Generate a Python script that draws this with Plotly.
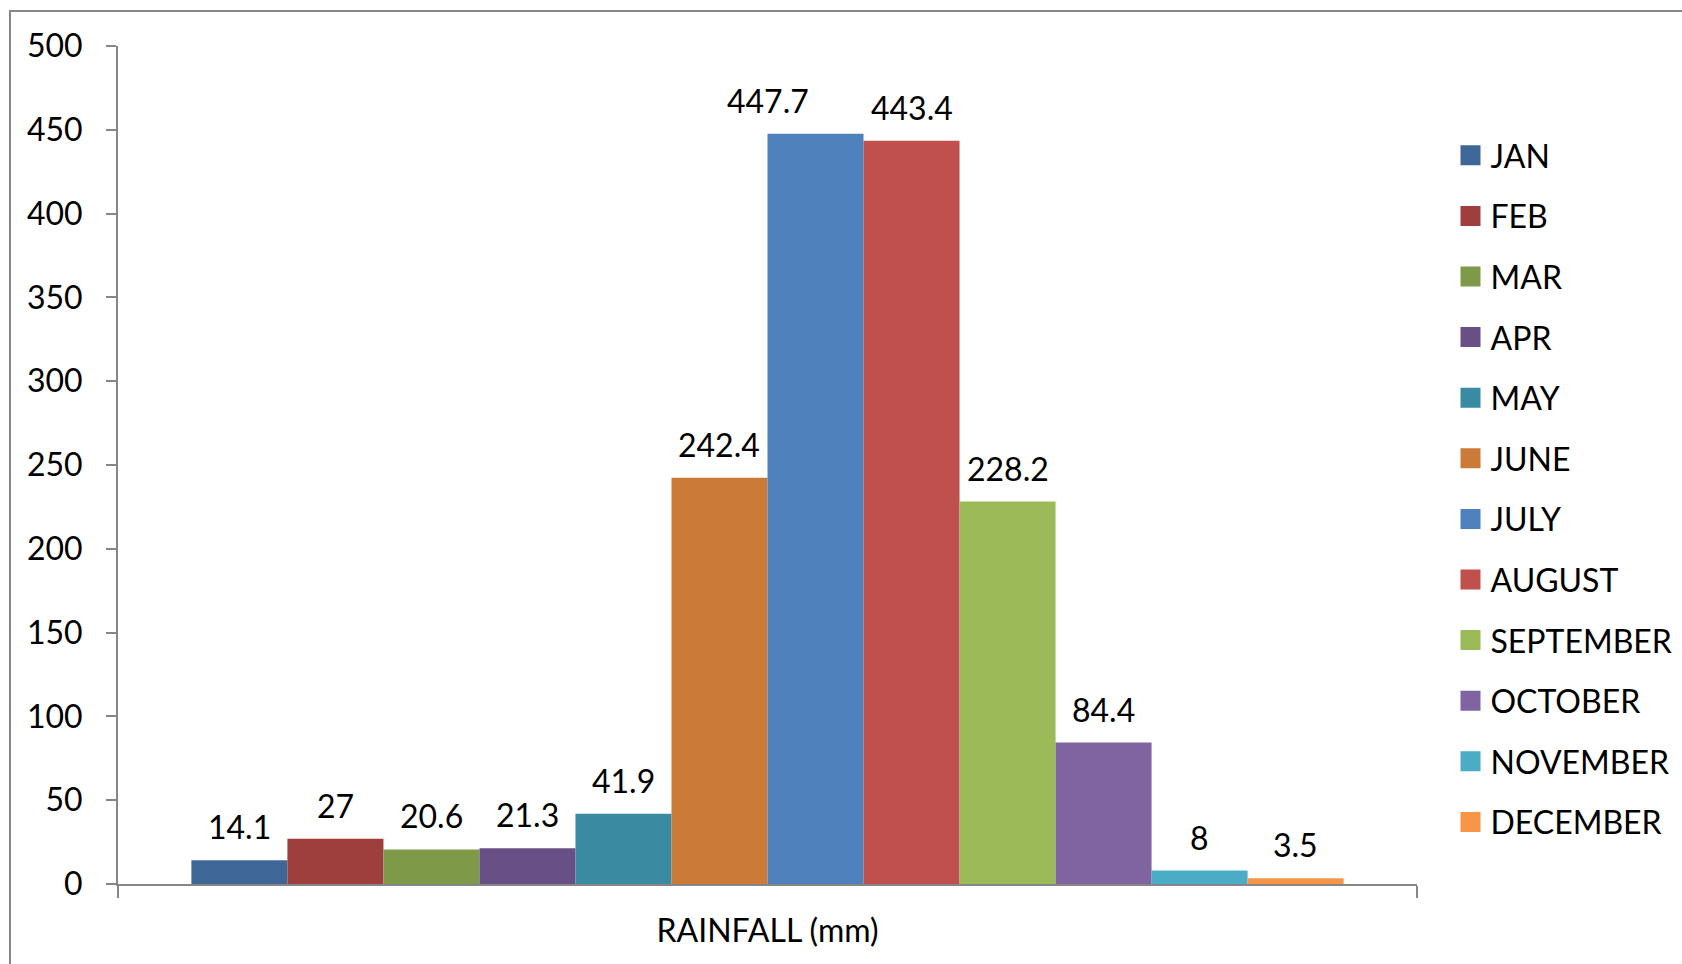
import plotly.graph_objects as go

category = ["RAINFALL (mm)"]
months = ["JAN", "FEB", "MAR", "APR", "MAY", "JUNE", "JULY", "AUGUST",
          "SEPTEMBER", "OCTOBER", "NOVEMBER", "DECEMBER"]
rainfall = [14.1, 27, 20.6, 21.3, 41.9, 242.4, 447.7, 443.4, 228.2, 84.4, 8, 3.5]
colors = ["#3E6797", "#9E3F3D", "#7E9A48", "#684F86", "#3A8BA1", "#CB7A38",
          "#4F81BD", "#C0504D", "#9BBB59", "#8064A2", "#4BACC6", "#F79646"]
y_ticks = [0, 50, 100, 150, 200, 250, 300, 350, 400, 450, 500]

FONT = "Lato, 'Open Sans', sans-serif"
GRAY = "#868686"
BARGAP = 0.113

fig = go.Figure()
for m, v, c in zip(months, rainfall, colors):
    fig.add_trace(go.Bar(x=category, y=[v], name=m, marker=dict(color=c, line=dict(width=0)),
                         showlegend=False))
# legend entries with larger square swatches
for m, c in zip(months, colors):
    fig.add_trace(go.Scatter(x=[None], y=[None], mode="markers", name=m, legendgroup=m,
                             marker=dict(symbol="square", size=16, color=c,
                                         line=dict(color=c, width=4))))

# data labels through the axes' scales
n = len(months)
group_w = 1 - BARGAP
bw = group_w / n
annotations = []
for i, (m, v) in enumerate(zip(months, rainfall)):
    xc = -group_w / 2 + (i + 0.5) * bw
    if m == "JULY":
        xc -= bw / 2  # label nudged left to avoid overlapping August's label
    annotations.append(dict(x=xc, y=v, xref="x", yref="y", text=str(v), showarrow=False,
                            yanchor="bottom", xanchor="center", yshift=12,
                            font=dict(family=FONT, size=32, color="#000000")))

W, H = 1682, 964
L, R, T, B = 118, 265, 46, 80
pw, ph = W - L - R, H - T - B

def px_to_paper_x(px):
    return (px - L) / pw

def px_to_paper_y(py):
    return (H - B - py) / ph

fig.update_layout(
    width=W, height=H,
    margin=dict(l=L, r=R, t=T, b=B, pad=0, autoexpand=False),
    paper_bgcolor="white", plot_bgcolor="white",
    barmode="group", bargap=BARGAP, bargroupgap=0,
    font=dict(family=FONT, size=32, color="#000000"),
    annotations=annotations,
    legend=dict(x=px_to_paper_x(1450.5), y=px_to_paper_y(128), xanchor="left", yanchor="top",
                font=dict(family=FONT, size=32, color="#000000"),
                tracegroupgap=16, bgcolor="rgba(0,0,0,0)", itemclick=False),
    xaxis=dict(type="category", showline=True, linecolor=GRAY, linewidth=2,
               ticks="outside", tickson="boundaries", ticklen=12, tickcolor=GRAY, tickwidth=2,
               showgrid=False, zeroline=False, ticklabelstandoff=18,
               tickfont=dict(family=FONT, size=32, color="#000000")),
    yaxis=dict(range=[0, 500], tickvals=y_ticks, showline=True, linecolor=GRAY, linewidth=2,
               ticks="outside", ticklen=10, tickcolor=GRAY, tickwidth=2,
               showgrid=False, zeroline=False, ticklabelstandoff=17,
               tickfont=dict(family=FONT, size=32, color="#000000")),
    shapes=[dict(type="rect", xref="paper", yref="paper",
                 x0=px_to_paper_x(10), x1=px_to_paper_x(1700),
                 y0=px_to_paper_y(990), y1=px_to_paper_y(11),
                 line=dict(color=GRAY, width=2), fillcolor="rgba(0,0,0,0)", layer="below")],
)

fig.write_html("out.html", config={"displayModeBar": False},
               post_script="document.body.style.margin='0';")
